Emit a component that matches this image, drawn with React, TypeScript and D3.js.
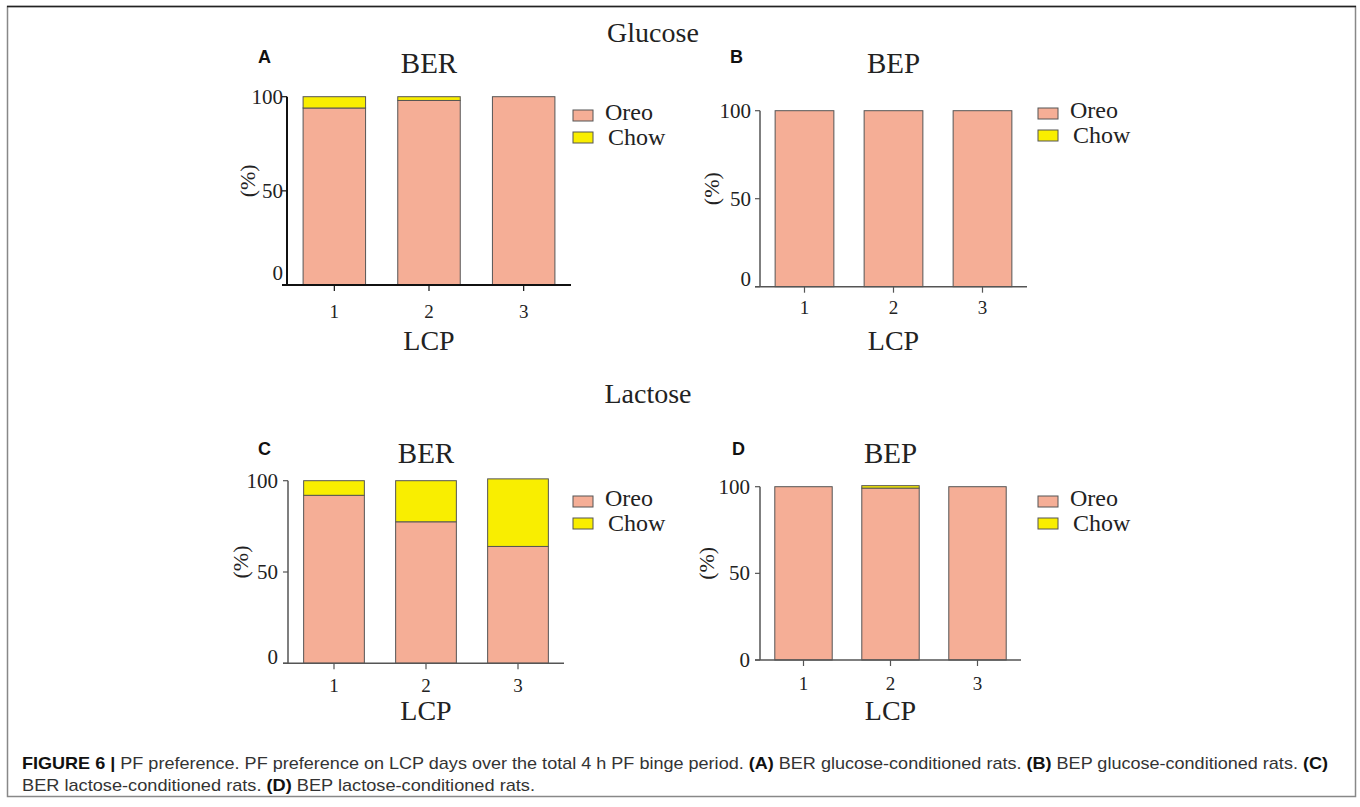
import React, { useEffect, useRef } from 'react';
import * as d3 from 'd3';

const days = ['1', '2', '3'];
const series = ['Oreo', 'Chow'];
const yTicks = [0, 50, 100];

// % of PF intake per LCP day
const glucoseBerOreo = [94, 98, 100];
const glucoseBerChow = [6, 2, 0];
const glucoseBepOreo = [100, 100, 100];
const glucoseBepChow = [0, 0, 0];
const lactoseBerOreo = [92, 77.5, 64];
const lactoseBerChow = [8, 22.5, 37];
const lactoseBepOreo = [100, 99.2, 100];
const lactoseBepChow = [0, 1.4, 0];

const OREO = '#F5AE96';
const CHOW = '#F9EE00';
const SERIF = '"Liberation Serif", "Times New Roman", serif';
const SANS = '"Liberation Sans", Arial, sans-serif';

interface PanelSpec {
  letter: string;
  title: string;
  oreo: number[];
  chow: number[];
  x0: number;
  x1: number;
  y0: number;
  y100: number;
  letterX: number;
  letterY: number;
  titleY: number;
  tickY: number;
  lcpY: number;
  legendX: number;
  legendY: number;
  labelGap: number;
  zeroLift: number;
  pctX: number;
  axisColor: string;
  axisWidth: number;
}

const panels: PanelSpec[] = [
  {
    letter: 'A', title: 'BER', oreo: glucoseBerOreo, chow: glucoseBerChow,
    x0: 287, x1: 571, y0: 285, y100: 96.7, letterX: 258, letterY: 63, titleY: 73,
    tickY: 318, lcpY: 350, legendX: 573, legendY: 110, labelGap: 4, zeroLift: 12, pctX: 247,
    axisColor: '#111', axisWidth: 2,
  },
  {
    letter: 'B', title: 'BEP', oreo: glucoseBepOreo, chow: glucoseBepChow,
    x0: 760, x1: 1027, y0: 286.7, y100: 110.7, letterX: 730, letterY: 63, titleY: 73,
    tickY: 314, lcpY: 350, legendX: 1038, legendY: 108, labelGap: 9, zeroLift: 8, pctX: 711,
    axisColor: '#555', axisWidth: 1.5,
  },
  {
    letter: 'C', title: 'BER', oreo: lactoseBerOreo, chow: lactoseBerChow,
    x0: 288, x1: 564, y0: 663.3, y100: 480.7, letterX: 258, letterY: 455, titleY: 463,
    tickY: 692, lcpY: 720, legendX: 573, legendY: 496, labelGap: 10, zeroLift: 6, pctX: 240,
    axisColor: '#555', axisWidth: 1.5,
  },
  {
    letter: 'D', title: 'BEP', oreo: lactoseBepOreo, chow: lactoseBepChow,
    x0: 760, x1: 1021, y0: 660, y100: 486.7, letterX: 732, letterY: 455, titleY: 463,
    tickY: 690, lcpY: 720, legendX: 1038, legendY: 496, labelGap: 10, zeroLift: 0, pctX: 706,
    axisColor: '#555', axisWidth: 1.5,
  },
];

const App: React.FC = () => {
  const svgRef = useRef<SVGSVGElement>(null);

  useEffect(() => {
    if (!svgRef.current) return;
    const svg = d3.select(svgRef.current);
    svg.selectAll('*').remove();

    // frame
    svg.append('rect').attr('x', 7.5).attr('y', 6.5).attr('width', 1348).attr('height', 790)
      .attr('fill', 'none').attr('stroke', '#888').attr('stroke-width', 1.5);
    svg.append('line').attr('x1', 7).attr('x2', 1356).attr('y1', 6.5).attr('y2', 6.5)
      .attr('stroke', '#222').attr('stroke-width', 1.5);

    // group headers
    svg.append('text').attr('x', 653).attr('y', 42).attr('text-anchor', 'middle')
      .attr('font-family', SERIF).attr('font-size', 28).attr('fill', '#222').text('Glucose');
    svg.append('text').attr('x', 648).attr('y', 403).attr('text-anchor', 'middle')
      .attr('font-family', SERIF).attr('font-size', 28).attr('fill', '#222').text('Lactose');

    panels.forEach(p => {
      const g = svg.append('g');
      const x = d3.scaleBand<string>().domain(days).range([p.x0, p.x1])
        .paddingInner(0.34).paddingOuter(0.17);
      const y = d3.scaleLinear().domain([0, 100]).range([p.y0, p.y100]);
      const mid = (p.x0 + p.x1) / 2;

      // bars: Oreo on the bottom, Chow stacked above
      days.forEach((d, i) => {
        const bx = x(d) as number;
        const oreo = p.oreo[i];
        const chow = p.chow[i];
        g.append('rect').attr('x', bx).attr('width', x.bandwidth())
          .attr('y', y(oreo)).attr('height', y(0) - y(oreo))
          .attr('fill', OREO).attr('stroke', '#555').attr('stroke-width', 1);
        if (chow > 0) {
          g.append('rect').attr('x', bx).attr('width', x.bandwidth())
            .attr('y', y(oreo + chow)).attr('height', y(oreo) - y(oreo + chow))
            .attr('fill', CHOW).attr('stroke', '#555').attr('stroke-width', 1);
        }
      });

      // axes
      g.append('line').attr('x1', p.x0).attr('x2', p.x0).attr('y1', y(100)).attr('y2', y(0))
        .attr('stroke', p.axisColor).attr('stroke-width', p.axisWidth);
      g.append('line').attr('x1', p.x0 - 5).attr('x2', p.x1).attr('y1', y(0)).attr('y2', y(0))
        .attr('stroke', p.axisColor).attr('stroke-width', p.axisWidth);

      yTicks.forEach(t => {
        g.append('line').attr('x1', p.x0 - 5).attr('x2', p.x0).attr('y1', y(t)).attr('y2', y(t))
          .attr('stroke', p.axisColor).attr('stroke-width', 1.2);
        g.append('text').attr('x', p.x0 - p.labelGap).attr('y', y(t) + 7 - (t === 0 ? p.zeroLift : 0))
          .attr('text-anchor', 'end').attr('font-family', SERIF).attr('font-size', 21)
          .attr('fill', '#222').text(String(t));
      });

      days.forEach(d => {
        const cx = (x(d) as number) + x.bandwidth() / 2;
        g.append('line').attr('x1', cx).attr('x2', cx).attr('y1', y(0)).attr('y2', y(0) + 6)
          .attr('stroke', p.axisColor).attr('stroke-width', 1.2);
        g.append('text').attr('x', cx).attr('y', p.tickY).attr('text-anchor', 'middle')
          .attr('font-family', SERIF).attr('font-size', 19).attr('fill', '#222').text(d);
      });

      // labels
      g.append('text').attr('x', mid).attr('y', p.lcpY).attr('text-anchor', 'middle')
        .attr('font-family', SERIF).attr('font-size', 28).attr('fill', '#222').text('LCP');
      g.append('text').attr('x', mid).attr('y', p.titleY).attr('text-anchor', 'middle')
        .attr('font-family', SERIF).attr('font-size', 29).attr('fill', '#222').text(p.title);
      g.append('text')
        .attr('transform', `translate(${p.pctX},${(y(0) + y(100)) / 2 - 10}) rotate(-90)`)
        .attr('text-anchor', 'middle').attr('dominant-baseline', 'central')
        .attr('font-family', SERIF).attr('font-size', 22).attr('fill', '#222').text('(%)');
      g.append('text').attr('x', p.letterX).attr('y', p.letterY)
        .attr('font-family', SANS).attr('font-weight', 'bold').attr('font-size', 18)
        .attr('fill', '#111').text(p.letter);

      // legend
      series.forEach((s, i) => {
        const ly = p.legendY + i * 22;
        g.append('rect').attr('x', p.legendX).attr('y', ly).attr('width', 20).attr('height', 11)
          .attr('fill', i === 0 ? OREO : CHOW).attr('stroke', '#555').attr('stroke-width', 1);
        g.append('text').attr('x', p.legendX + 32 + (i === 1 ? 3 : 0)).attr('y', ly + 10 + i * 3)
          .attr('font-family', SERIF).attr('font-size', 24).attr('fill', '#222').text(s);
      });
    });

    // caption
    const cap1 = svg.append('text').attr('x', 22).attr('y', 769)
      .attr('font-family', SANS).attr('font-size', 17).attr('fill', '#333')
      .attr('textLength', 1306).attr('lengthAdjust', 'spacingAndGlyphs');
    const parts1: [string, boolean][] = [
      ['FIGURE 6 |', true],
      [' PF preference. PF preference on LCP days over the total 4 h PF binge period. ', false],
      ['(A)', true], [' BER glucose-conditioned rats. ', false],
      ['(B)', true], [' BEP glucose-conditioned rats. ', false],
      ['(C)', true],
    ];
    parts1.forEach(([t, b]) => {
      cap1.append('tspan').attr('font-weight', b ? 'bold' : 'normal')
        .attr('fill', b ? '#111' : '#333').text(t);
    });
    const cap2 = svg.append('text').attr('x', 22).attr('y', 791)
      .attr('font-family', SANS).attr('font-size', 17).attr('fill', '#333')
      .attr('textLength', 513).attr('lengthAdjust', 'spacingAndGlyphs');
    const parts2: [string, boolean][] = [
      ['BER lactose-conditioned rats. ', false],
      ['(D)', true], [' BEP lactose-conditioned rats.', false],
    ];
    parts2.forEach(([t, b]) => {
      cap2.append('tspan').attr('font-weight', b ? 'bold' : 'normal')
        .attr('fill', b ? '#111' : '#333').text(t);
    });
  }, []);

  return (
    <div style={{ position: 'absolute', left: 0, top: 0, width: 1360, height: 807, background: '#fff' }}>
      <svg ref={svgRef} width={1360} height={807} style={{ display: 'block' }} />
    </div>
  );
};

export default App;
